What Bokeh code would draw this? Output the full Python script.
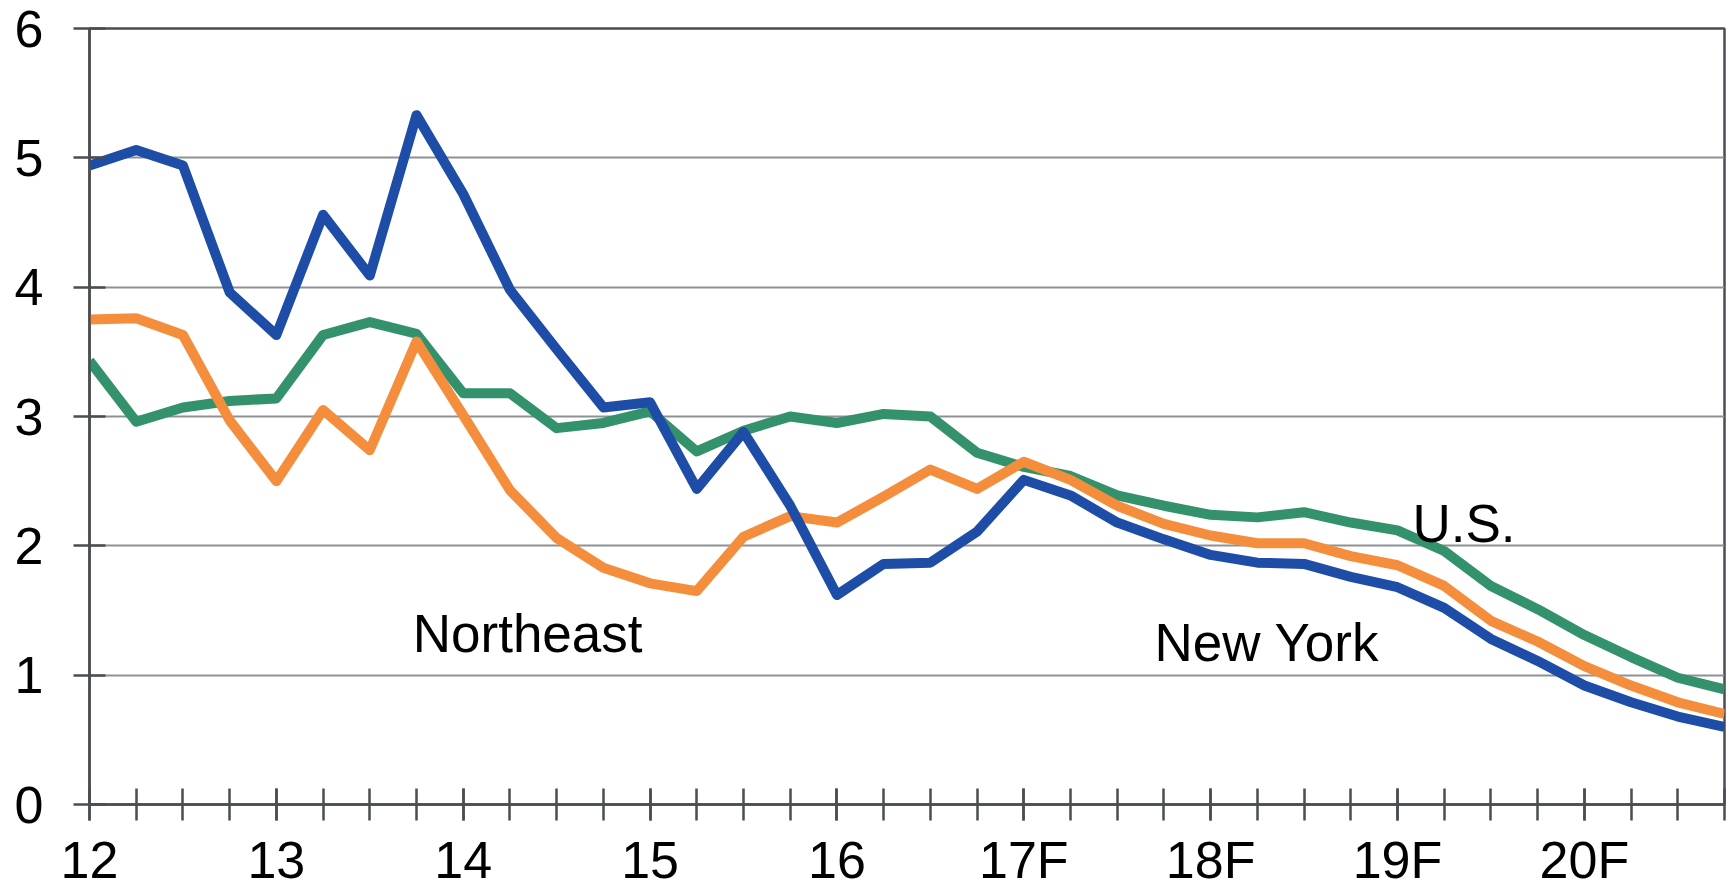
from bokeh.plotting import figure
from bokeh.models import Range1d, FixedTicker, ColumnDataSource
from bokeh.core.properties import value
from bokeh.embed import file_html
from bokeh.resources import INLINE

# ---- data ----
quarters = [12.0, 12.25, 12.5, 12.75, 13.0, 13.25, 13.5, 13.75,
            14.0, 14.25, 14.5, 14.75, 15.0, 15.25, 15.5, 15.75,
            16.0, 16.25, 16.5, 16.75, 17.0, 17.25, 17.5, 17.75,
            18.0, 18.25, 18.5, 18.75, 19.0, 19.25, 19.5, 19.75,
            20.0, 20.25, 20.5, 20.75]

new_york = [4.94, 5.06, 4.94, 3.96, 3.63, 4.56, 4.09, 5.33,
            4.72, 3.98, 3.52, 3.07, 3.11, 2.44, 2.88, 2.31,
            1.62, 1.86, 1.87, 2.11, 2.51, 2.39, 2.18, 2.05,
            1.93, 1.87, 1.86, 1.76, 1.68, 1.52, 1.28, 1.11,
            0.92, 0.79, 0.68, 0.60]

northeast = [3.75, 3.76, 3.63, 2.97, 2.50, 3.05, 2.74, 3.58,
             3.01, 2.43, 2.06, 1.83, 1.71, 1.65, 2.07, 2.23,
             2.18, 2.38, 2.59, 2.44, 2.65, 2.51, 2.31, 2.17,
             2.08, 2.02, 2.02, 1.92, 1.85, 1.69, 1.42, 1.26,
             1.07, 0.92, 0.79, 0.70]

us = [3.43, 2.96, 3.07, 3.12, 3.14, 3.63, 3.73, 3.64,
      3.18, 3.18, 2.91, 2.95, 3.04, 2.73, 2.89, 3.00,
      2.95, 3.02, 3.00, 2.72, 2.61, 2.54, 2.39, 2.31,
      2.24, 2.22, 2.26, 2.18, 2.12, 1.96, 1.69, 1.51,
      1.31, 1.14, 0.98, 0.89]

year_ticks = [12, 13, 14, 15, 16, 17, 18, 19, 20]
year_labels = ["12", "13", "14", "15", "16", "17F", "18F", "19F", "20F"]
y_ticks = [0, 1, 2, 3, 4, 5, 6]

series_labels = ["Northeast", "New York", "U.S."]
label_x = [13.73, 17.70, 19.08]
label_y = [1.32, 1.25, 2.17]

# ---- styles ----
BLUE = "#1e4da8"
ORANGE = "#f48e3d"
GREEN = "#33926b"
GRID = "#8e9194"
AXIS = "#4a4d52"
FONT = "Liberation Sans"

p = figure(width=1727, height=891, output_backend="svg", toolbar_location=None,
           x_range=Range1d(quarters[0], quarters[-1]), y_range=Range1d(0, 6),
           min_border_left=89, min_border_right=3, min_border_top=28,
           min_border_bottom=87)

p.background_fill_color = "white"
p.border_fill_color = "white"
p.outline_line_color = AXIS
p.outline_line_width = 2.5

# grid
p.xgrid.visible = False
p.ygrid.ticker = FixedTicker(ticks=y_ticks)
p.ygrid.grid_line_color = GRID
p.ygrid.grid_line_width = 2

# x axis
xa = p.xaxis[0]
xa.ticker = FixedTicker(ticks=year_ticks, minor_ticks=quarters)
xa.major_label_overrides = {t: l for t, l in zip(year_ticks, year_labels)}
xa.axis_line_color = AXIS
xa.axis_line_width = 2.5
xa.major_tick_line_color = AXIS
xa.minor_tick_line_color = AXIS
xa.major_tick_line_width = 2.5
xa.minor_tick_line_width = 2.5
xa.major_tick_in = 16
xa.major_tick_out = 16
xa.minor_tick_in = 16
xa.minor_tick_out = 16
xa.major_label_text_font = FONT
xa.major_label_text_font_size = "52px"
xa.major_label_text_color = "black"
xa.major_label_standoff = 10

# y axis
ya = p.yaxis[0]
ya.ticker = FixedTicker(ticks=y_ticks)
ya.axis_line_color = AXIS
ya.axis_line_width = 2.5
ya.major_tick_line_color = AXIS
ya.major_tick_line_width = 2.5
ya.major_tick_in = 16
ya.major_tick_out = 16
ya.minor_tick_line_color = None
ya.major_label_text_font = FONT
ya.major_label_text_font_size = "52px"
ya.major_label_text_color = "black"
ya.major_label_standoff = 30

# lines
for vals, col in [(us, GREEN), (northeast, ORANGE), (new_york, BLUE)]:
    p.line(quarters, vals, line_color=col, line_width=10, line_join="round")

src = ColumnDataSource(dict(x=label_x, y=label_y, t=series_labels))
p.text(x="x", y="y", text="t", source=src, text_font=value(FONT),
       text_font_size="53px", text_color="black", text_align="left",
       text_baseline="alphabetic")

open("out.html", "w").write(file_html(p, INLINE))
